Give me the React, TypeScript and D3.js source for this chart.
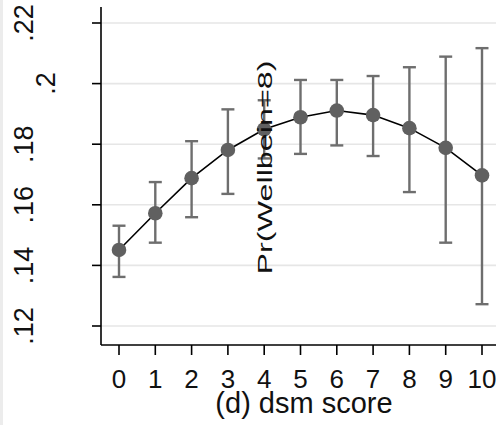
import React from "react";
import * as d3 from "d3";

const scores = [0, 1, 2, 3, 4, 5, 6, 7, 8, 9, 10];
const estimates = [0.1451, 0.1572, 0.1688, 0.1781, 0.1849, 0.1889, 0.1911, 0.1896, 0.1853, 0.1788, 0.1697];
const lowerCI = [0.1362, 0.1475, 0.1559, 0.1636, 0.1753, 0.1768, 0.1796, 0.1761, 0.1642, 0.1475, 0.1272];
const upperCI = [0.1531, 0.1675, 0.181, 0.1915, 0.1945, 0.2012, 0.2012, 0.2025, 0.2054, 0.2089, 0.2117];
const yTicks = [0.12, 0.14, 0.16, 0.18, 0.2, 0.22];
const yTickLabels = [".12", ".14", ".16", ".18", ".2", ".22"];
const xTitle = "(d) dsm score";
const yTitle = "Pr(Wellbein=8)";

export default function App() {
  const W = 496, H = 425;
  const x = d3.scaleLinear().domain([0, 10]).range([119, 482]);
  const y = d3.scaleLinear().domain([0.12, 0.22]).range([326, 23]);
  const axisX = 101, axisY = 345;
  const line = d3.line<number>().x((d, i) => x(scores[i])).y((d) => y(d));
  const font = "Liberation Sans, Arial, Helvetica, sans-serif";
  const cap = 6.5;
  return (
    <svg width={W} height={H} style={{ position: "absolute", left: 0, top: 0, background: "#fff" }} fontFamily={font}>
      <rect x={0} y={0} width={3} height={H} fill="#ececec" />
      {yTicks.map((t) => (
        <line key={"g" + t} x1={axisX} x2={W} y1={y(t)} y2={y(t)} stroke="#e6e6e6" strokeWidth={1.6} />
      ))}
      {/* axes */}
      <line x1={axisX} x2={axisX} y1={7} y2={axisY} stroke="#000" strokeWidth={1.6} />
      <line x1={axisX} x2={W} y1={axisY} y2={axisY} stroke="#000" strokeWidth={1.6} />
      {yTicks.map((t, i) => {
        const lab = yTickLabels[i];
        const bx = 33 + (3 - lab.length) * 22;
        return (
          <g key={"yt" + t}>
            <line x1={92} x2={axisX} y1={y(t)} y2={y(t)} stroke="#000" strokeWidth={1.6} />
            <text transform={`translate(${bx},${y(t)}) rotate(-90)`} textAnchor="middle" fontSize={27} fill="#111">
              {lab}
            </text>
          </g>
        );
      })}
      {scores.map((s) => (
        <g key={"xt" + s}>
          <line x1={x(s)} x2={x(s)} y1={axisY} y2={axisY + 10} stroke="#000" strokeWidth={1.6} />
          <text x={x(s)} y={388} textAnchor="middle" fontSize={26} fill="#111">
            {s}
          </text>
        </g>
      ))}
      <text x={304} y={413} textAnchor="middle" fontSize={29} fill="#111">
        {xTitle}
      </text>
      {/* error bars */}
      {scores.map((s, i) => (
        <g key={"eb" + s} stroke="#6e6e6e" strokeWidth={2.4}>
          <line x1={x(s)} x2={x(s)} y1={y(lowerCI[i])} y2={y(upperCI[i])} />
          <line x1={x(s) - cap} x2={x(s) + cap} y1={y(lowerCI[i])} y2={y(lowerCI[i])} />
          <line x1={x(s) - cap} x2={x(s) + cap} y1={y(upperCI[i])} y2={y(upperCI[i])} />
        </g>
      ))}
      <path d={line(estimates) || ""} fill="none" stroke="#000" strokeWidth={1.6} />
      {scores.map((s, i) => (
        <circle key={"pt" + s} cx={x(s)} cy={y(estimates[i])} r={7.3} fill="#606060" />
      ))}
      <text
        transform={`translate(272,167.5) rotate(-90)`}
        textAnchor="middle"
        fontSize={21}
        fill="#111"
        textLength={214}
        lengthAdjust="spacingAndGlyphs"
      >
        {yTitle}
      </text>
    </svg>
  );
}
